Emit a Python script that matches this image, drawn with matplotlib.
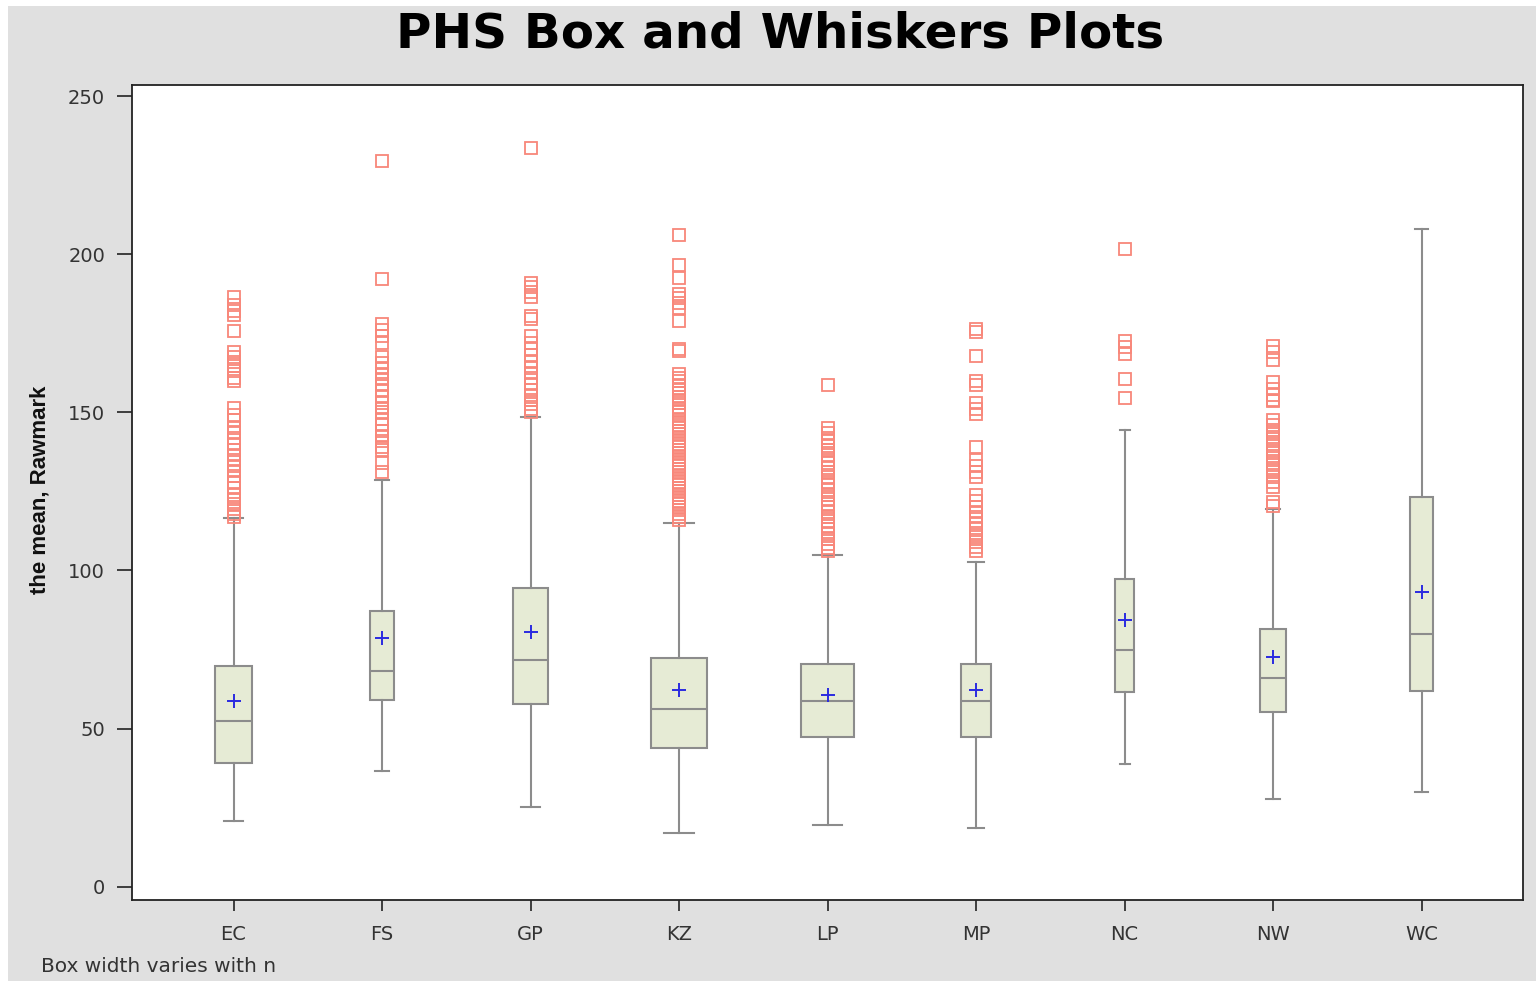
import matplotlib
matplotlib.use("Agg")
import matplotlib.pyplot as plt
import numpy as np
from matplotlib.patches import Rectangle

categories = ["EC", "FS", "GP", "KZ", "LP", "MP", "NC", "NW", "WC"]
n_obs = [430, 190, 400, 1000, 930, 300, 110, 220, 175]
whislo = [20.7, 36.6, 25.2, 16.9, 19.5, 18.6, 38.7, 27.7, 29.9]
q1 = [39.0, 58.9, 57.8, 43.8, 47.4, 47.4, 61.5, 55.2, 61.9]
med = [52.3, 68.3, 71.7, 56.2, 58.7, 58.7, 74.8, 65.9, 79.9]
q3 = [69.8, 87.2, 94.4, 72.2, 70.5, 70.5, 97.4, 81.4, 123.3]
whishi = [116.5, 128.6, 148.6, 115.1, 104.8, 102.7, 144.4, 119.4, 208.0]
means = [58.8, 78.8, 80.5, 62.3, 60.7, 62.3, 84.3, 72.5, 93.3]

out_EC = [186.5, 184, 182, 180.8, 175.8, 169, 167.5, 166, 164.5, 163, 161, 160,
          151.5, 149, 147.5, 145, 143.5, 142, 140, 138, 136.5, 135, 133, 131.5,
          130, 128, 126, 124, 122.5, 121, 119.5, 118, 117]
out_FS = [229.5, 192, 178, 176, 174, 172, 167.5, 165.5, 164, 162, 160.5, 159,
          157, 155, 153, 151.5, 150, 148, 146, 144, 142.5, 141, 139, 138, 134, 131]
out_GP = [233.6, 191, 189.5, 188, 186.5, 180.5, 179.5, 174, 172, 170, 168, 166,
          164, 162.5, 161, 159, 157, 155.5, 154, 152.5, 151, 150]
out_KZ = [206, 196.7, 192.5, 187.5, 186, 184.5, 183, 179, 170, 169.5,
          162, 161, 160, 158.5, 157.5, 156, 155, 154, 153, 151.5, 150.5, 149,
          148, 147, 146, 145, 144, 143, 142, 141, 140, 139, 138, 137, 136, 135,
          134, 133, 132, 131, 130, 129, 128, 127, 126, 125, 124, 123, 122, 121,
          120, 119, 118, 117, 116]
out_LP = [158.6, 145, 143.5, 142, 141, 139.5, 138, 136.5, 135, 134, 132.5, 131,
          129.5, 128, 127, 125.5, 124, 122.5, 121, 120, 118.5, 117, 115.5, 114,
          113, 111.5, 110, 108.5, 107, 106]
out_MP = [176.5, 175.5, 167.7, 160, 158.5, 153, 151, 149.5, 138.9, 135, 133, 131,
          129.5, 124, 122, 120, 118.5, 117, 115, 113.5, 112, 110.5, 109, 107.5, 106]
out_NC = [201.7, 172.5, 170.5, 168.5, 160.4, 154.6]
out_NW = [171, 169, 166.5, 159.5, 157.5, 155.5, 154, 153.5, 147.5, 146, 144.5,
          143, 141.5, 140, 138.5, 137, 135.5, 134, 132.5, 131, 129.5, 128, 126.5,
          121.5, 120.5]
out_WC = []
outliers = [out_EC, out_FS, out_GP, out_KZ, out_LP, out_MP, out_NC, out_NW, out_WC]

yticks = [0, 50, 100, 150, 200, 250]

fig = plt.figure(figsize=(15.36, 9.81), dpi=100)
fig.patch.set_facecolor("white")
fig.patches.append(Rectangle((8 / 1536, 0), 1 - 8 / 1536, 1 - 6 / 981,
                             transform=fig.transFigure, facecolor="#e0e0e0",
                             edgecolor="none", zorder=-10))

ax = fig.add_axes([131.5 / 1536, 81 / 981, (1523 - 131.5) / 1536, (900 - 85) / 981])
ax.set_facecolor("white")

stats = []
for i, c in enumerate(categories):
    stats.append(dict(label=c, whislo=whislo[i], q1=q1[i], med=med[i], q3=q3[i],
                      whishi=whishi[i], mean=means[i], fliers=outliers[i]))

positions = np.arange(1, len(categories) + 1)
widths = [0.371 * np.sqrt(n / 1000.0) for n in n_obs]
capw = [0.55 * w for w in widths]

gray = "#8c8c8c"
ax.bxp(stats, positions=positions, widths=widths, capwidths=capw,
       showmeans=True, patch_artist=True, manage_ticks=False,
       boxprops=dict(facecolor="#e6ebd5", edgecolor=gray, linewidth=1.5),
       whiskerprops=dict(color=gray, linewidth=1.5),
       capprops=dict(color=gray, linewidth=1.5),
       medianprops=dict(color=gray, linewidth=1.5),
       meanprops=dict(marker="+", markeredgecolor="#2a2ae0", markersize=10,
                      markeredgewidth=1.4, linestyle="none"),
       flierprops=dict(marker="s", markerfacecolor="none", markeredgecolor="#f8877a",
                       markersize=8, markeredgewidth=1.3, linestyle="none"))

ax.set_xlim(0.313, 9.683)
ax.set_ylim(-4.2, 253.5)
ax.set_xticks(positions)
ax.set_xticklabels(categories)
ax.set_yticks(yticks)
ax.set_yticklabels([str(t) for t in yticks])

for s in ax.spines.values():
    s.set_color("#222222")
    s.set_linewidth(1.3)

ax.tick_params(axis="y", length=10.5, width=1.2, pad=8.5, labelsize=14,
               labelcolor="#333333", color="#222222")
ax.tick_params(axis="x", length=7.7, width=1.2, pad=10, labelsize=14,
               labelcolor="#333333", color="#222222")
for lab in ax.get_xticklabels() + ax.get_yticklabels():
    lab.set_family(["DejaVu Sans"])

fig.text(40 / 1536, 1 - 490 / 981, "the mean, Rawmark", rotation=90,
         ha="center", va="center", fontsize=16, fontweight="bold",
         family=["Liberation Sans Narrow", "Liberation Sans", "DejaVu Sans"],
         color="#111111")

fig.text(780 / 1536, 1 - 34 / 981, "PHS Box and Whiskers Plots", ha="center",
         va="center", fontsize=34.8, fontweight="bold",
         family=["DejaVu Sans"], color="black")

fig.text(41 / 1536, 1 - 966 / 981, "Box width varies with n", ha="left",
         va="center", fontsize=14.5, family=["DejaVu Sans"],
         color="#333333")

fig.savefig("out.png", dpi=100, facecolor=fig.get_facecolor())
